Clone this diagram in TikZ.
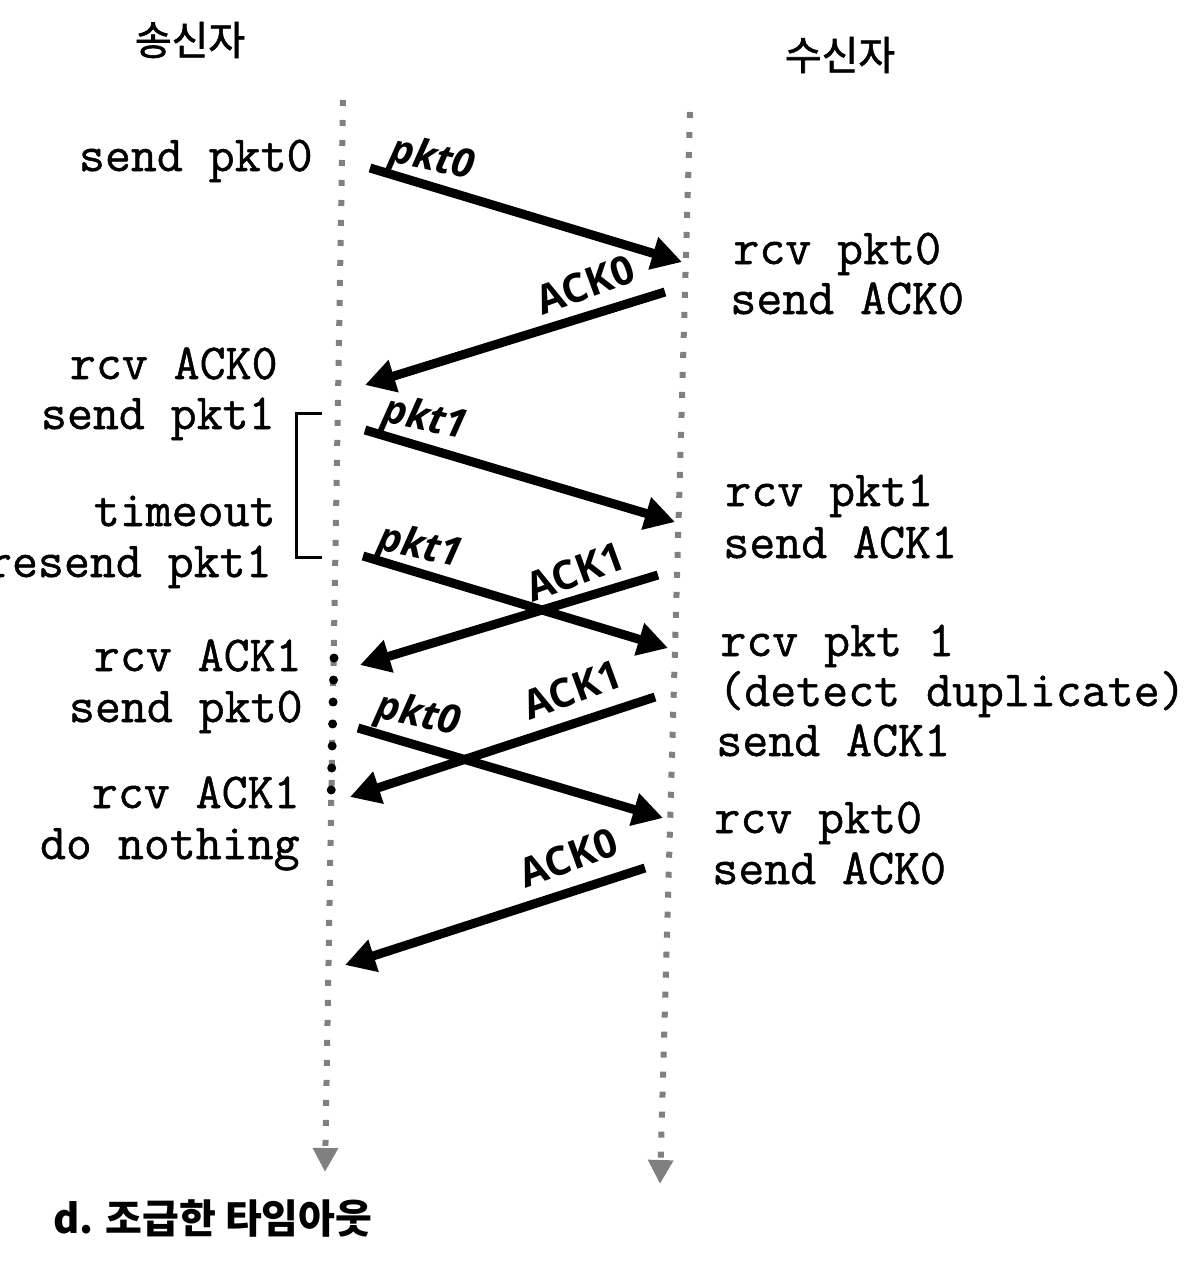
\documentclass[tikz,border=0pt]{standalone}
\usepackage{fontspec}
\usepackage{tikz}
\usetikzlibrary{arrows.meta}
\newfontfamily\kofont{Noto Sans CJK KR}
\newfontfamily\hdfont{Noto Sans CJK KR}[FakeBold=1.5]
\newfontfamily\tyfont{Latin Modern Mono}[FakeBold=1]
\newfontfamily\lbfont{Open Sans}

\begin{document}
\begin{tikzpicture}[x=0.5pt, y=-0.5pt,
    timeline/.style={draw=gray, line width=3pt, dash pattern=on 3pt off 7pt,
        -{Triangle[length=12pt, width=12pt]}},
    blkdots/.style={line width=4.5pt, line cap=round, dash pattern=on 0pt off 11pt},
    msg/.style={line width=4.5pt, -{Triangle[length=15pt, width=16pt]}},
    msglbl/.style={font=\lbfont\bfseries\fontsize{20}{20}\selectfont, inner sep=0pt},
    sndtxt/.style={font=\tyfont\fontsize{25.2}{25}\selectfont, inner sep=0pt, anchor=base east},
    rcvtxt/.style={font=\tyfont\fontsize{25.2}{25}\selectfont, inner sep=0pt, anchor=base west},
    head/.style={font=\hdfont\fontsize{20}{20}\selectfont}]
    \path[use as bounding box, fill=white] (0,0) rectangle (1188,1284);

    % headings
    \node[head] (sender) at (190,40) {송신자};
    \node[head] (receiver) at (840,55) {수신자};
    \node[head, font=\kofont\bfseries\fontsize{20}{20}\selectfont, anchor=west] (caption) at (46,1218) {d. 조급한 타임아웃};

    % timelines
    \coordinate (stop) at (343,100);
    \coordinate (sbot) at (325,1172);
    \coordinate (rtop) at (690,112);
    \coordinate (rbot) at (660,1184);
    \draw[timeline] (stop) -- (sbot);
    \draw[timeline] (rtop) -- (rbot);
    \coordinate (bd1) at (334,658);
    \coordinate (bd2) at (331,802);
    \draw[blkdots] (bd1) -- (bd2);

    % timer bracket
    \coordinate (br1) at (322,413);
    \coordinate (br2) at (296,413);
    \coordinate (br3) at (296,557);
    \coordinate (br4) at (322,557);
    \draw[line width=1.5pt] (br1) -- (br2) -- (br3) -- (br4);

    % sender side text
    \foreach \n/\x/\y/\t in {a/313/160/send pkt0, b/278/368/rcv ACK0, c/275/418/send pkt1,
        d/276/515/timeout, e/272/566/resend pkt1, f/302/660/rcv ACK1, g/303/711/send pkt0,
        h/300/797/rcv ACK1, i/300/848/do nothing}
        \node[sndtxt] (s\n) at (\x,\y+11) {\t};

    % receiver side text
    \foreach \n/\x/\y/\t in {a/733/253/rcv pkt0, b/730/303/send ACK0, c/725/495/rcv pkt1,
        d/723/547/send ACK1, e/720/645/rcv pkt 1, f/718/695/(detect duplicate),
        g/716/745/send ACK1, h/714/822/rcv pkt0, i/712/873/send ACK0}
        \node[rcvtxt] (r\n) at (\x,\y+11) {\t};

    % packets and acks
    \coordinate (p1s) at (370,168);  \coordinate (p1r) at (682,262);
    \coordinate (a1r) at (665,292);  \coordinate (a1s) at (365,385);
    \coordinate (p2s) at (365,430);  \coordinate (p2r) at (675,522);
    \coordinate (p3s) at (363,556);  \coordinate (p3r) at (668,648);
    \coordinate (a2r) at (658,575);  \coordinate (a2s) at (360,665);
    \coordinate (p4s) at (358,728);  \coordinate (p4r) at (663,818);
    \coordinate (a3r) at (655,697);  \coordinate (a3s) at (350,797);
    \coordinate (a4r) at (645,868);  \coordinate (a4s) at (345,965);

    \draw[msg] (p1s) -- (p1r);
    \draw[msg] (a1r) -- (a1s);
    \draw[msg] (p2s) -- (p2r);
    \draw[msg] (p3s) -- (p3r);
    \draw[msg] (a2r) -- (a2s);
    \draw[msg] (p4s) -- (p4r);
    \draw[msg] (a3r) -- (a3s);
    \draw[msg] (a4r) -- (a4s);

    \node[msglbl, rotate=-12] (lp1) at (432,160) {\itshape pkt0};
    \node[msglbl, rotate=20] (la1) at (585,285) {ACK0};
    \node[msglbl, rotate=-12] (lp2) at (425,420) {\itshape pkt1};
    \node[msglbl, rotate=-12] (lp3) at (420,548) {\itshape pkt1};
    \node[msglbl, rotate=20] (la2) at (575,572) {ACK1};
    \node[msglbl, rotate=-12] (lp4) at (418,716) {\itshape pkt0};
    \node[msglbl, rotate=20] (la3) at (572,690) {ACK1};
    \node[msglbl, rotate=20] (la4) at (568,858) {ACK0};
\end{tikzpicture}
\end{document}
